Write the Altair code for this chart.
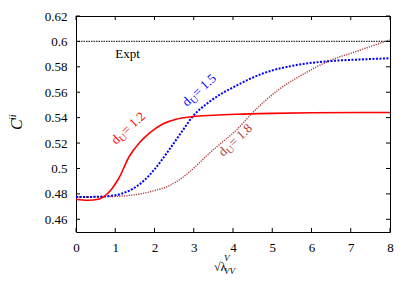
import altair as alt
import pandas as pd

# Curves
x_12 = [0, 0.3, 0.6, 0.72, 0.9, 1.08, 1.36, 1.61, 1.87, 2.21, 2.55, 2.97, 3.5, 4.08, 5.0, 6.0, 8.0]
y_12 = [0.4756, 0.4750, 0.4760, 0.4780, 0.4835, 0.4917, 0.5096, 0.5200, 0.5278, 0.5350,
        0.5388, 0.5408, 0.5419, 0.5427, 0.5434, 0.5438, 0.5441]

x_15 = [0, 0.5, 1.0, 1.36, 1.7, 2.0, 2.38, 2.72, 2.97, 3.4, 3.74, 3.92, 4.77, 5.62, 6.47, 7.32, 8.0]
y_15 = [0.4775, 0.4777, 0.4790, 0.4826, 0.4896, 0.4993, 0.5150, 0.5300, 0.5408, 0.5525,
        0.5595, 0.5625, 0.5749, 0.5814, 0.5845, 0.5859, 0.5867]

x_18 = [0, 1.0, 2.0, 2.38, 2.72, 3.06, 3.4, 3.74, 4.08, 4.5, 5.15, 5.83, 6.39, 7.15, 8.0]
y_18 = [0.4775, 0.4780, 0.4826, 0.4865, 0.4930, 0.5020, 0.5120, 0.5210, 0.5300, 0.5440,
        0.5617, 0.5749, 0.5839, 0.5922, 0.6012]

expt_value = 0.6
x_ticks = [0, 1, 2, 3, 4, 5, 6, 7, 8]
y_ticks = [0.46, 0.48, 0.50, 0.52, 0.54, 0.56, 0.58, 0.60, 0.62]

labels = ["1.2", "1.5", "1.8"]
label_x = [1.02, 2.83, 3.75]
label_y = [0.5184, 0.5483, 0.509]
colors = ["#ff0000", "#0000ff", "#b03a3a"]

W, H = 314, 216
FONT = "Liberation Serif"

xs = alt.Scale(domain=[0, 8], nice=False)
ys = alt.Scale(domain=[0.45, 0.62], nice=False)
axis_style = dict(title=None, tickSize=0, domain=False, grid=False, labelOverlap=False,
                  labelFlush=False, labelBound=False, labelFont=FONT, labelFontSize=13,
                  labelColor="black", labelPadding=9)
xaxis = alt.Axis(values=x_ticks, format="d", **axis_style)
yaxis = alt.Axis(values=y_ticks, format="~g", **axis_style)

def X(f="x"):
    return alt.X(f + ":Q", scale=xs, axis=xaxis)

def Y(f="y"):
    return alt.Y(f + ":Q", scale=ys, axis=yaxis)

def curve(xv, yv, color, dash, width):
    df = pd.DataFrame({"x": xv, "y": yv})
    kw = dict(color=color, strokeWidth=width, interpolate="monotone", clip=True)
    if dash:
        kw["strokeDash"] = dash
    return alt.Chart(df).mark_line(**kw).encode(x=X(), y=Y())

c12 = curve(x_12, y_12, colors[0], None, 1.6)
c15 = curve(x_15, y_15, colors[1], [2, 1.5], 2.0)
c18 = curve(x_18, y_18, colors[2], [1.2, 1.2], 1.4)

expt = alt.Chart(pd.DataFrame({"y": [expt_value]})).mark_rule(
    color="#333333", strokeWidth=1.2, strokeDash=[1.5, 1]
).encode(y=Y())

expt_txt = alt.Chart(pd.DataFrame({"x": [1.0], "y": [0.5869], "t": ["Expt"]})).mark_text(
    align="left", baseline="alphabetic", font=FONT, fontSize=13, color="black"
).encode(x=X(), y=Y(), text="t:N")

# inward ticks on all four sides
xt = pd.DataFrame({"x": x_ticks})
yt = pd.DataFrame({"y": y_ticks})
tb = alt.Chart(xt).mark_rule(color="black", strokeWidth=1).encode(
    x=X(), y=alt.value(H), y2=alt.value(H - 4))
tt = alt.Chart(xt).mark_rule(color="black", strokeWidth=1).encode(
    x=X(), y=alt.value(0), y2=alt.value(4))
tl = alt.Chart(yt).mark_rule(color="black", strokeWidth=1).encode(
    y=Y(), x=alt.value(0), x2=alt.value(4))
tr = alt.Chart(yt).mark_rule(color="black", strokeWidth=1).encode(
    y=Y(), x=alt.value(W), x2=alt.value(W - 4))

# d_U labels (d, subscript U, "= value"), rotated
lab_layers = []
for lx, ly, lt, col in zip(label_x, label_y, labels, colors):
    df = pd.DataFrame({"x": [lx], "y": [ly], "d": ["d"], "u": ["U"], "v": ["= " + lt]})
    lab_layers.append(alt.Chart(df).mark_text(
        align="left", baseline="alphabetic", angle=317, font=FONT, fontSize=13, color=col
    ).encode(text="d:N", x=X(), y=Y()))
    lab_layers.append(alt.Chart(df).mark_text(
        align="left", baseline="alphabetic", angle=317, font=FONT, fontSize=10, color=col,
        dx=6.5, dy=3
    ).encode(text="u:N", x=X(), y=Y()))
    lab_layers.append(alt.Chart(df).mark_text(
        align="left", baseline="alphabetic", angle=317, font=FONT, fontSize=13, color=col,
        dx=14
    ).encode(text="v:N", x=X(), y=Y()))

# axis titles built from text pieces
one = pd.DataFrame({"a": ["C"], "b": ["ii"], "s": ["\u221a\u03bb"], "p": ["V"], "q": ["VV"]})
yt_c = alt.Chart(one).mark_text(align="left", baseline="alphabetic", angle=270, font=FONT,
                                fontSize=16, fontStyle="italic", color="black").encode(
    text="a:N", x=alt.value(-54), y=alt.value(114))
yt_ii = alt.Chart(one).mark_text(align="left", baseline="alphabetic", angle=270, font=FONT,
                                 fontSize=10, fontStyle="italic", color="black", dx=10, dy=-6).encode(
    text="b:N", x=alt.value(-54), y=alt.value(114))
xt_s = alt.Chart(one).mark_text(align="left", baseline="alphabetic", font=FONT,
                                fontSize=12, color="black").encode(
    text="s:N", x=alt.value(138), y=alt.value(255))
xt_p = alt.Chart(one).mark_text(align="left", baseline="alphabetic", font=FONT,
                                fontSize=9, fontStyle="italic", color="black").encode(
    text="p:N", x=alt.value(148), y=alt.value(245))
xt_q = alt.Chart(one).mark_text(align="left", baseline="alphabetic", font=FONT,
                                fontSize=9, fontStyle="italic", color="black").encode(
    text="q:N", x=alt.value(148), y=alt.value(258))

chart = alt.layer(
    expt, c18, c15, c12, expt_txt, tb, tt, tl, tr, *lab_layers, yt_c, yt_ii, xt_s, xt_p, xt_q
).properties(
    width=W, height=H,
    background="white",
    autosize=alt.AutoSizeParams(type="none"),
    padding={"left": 68, "top": 8, "right": 17, "bottom": 51},
).configure_view(
    stroke="black", strokeWidth=1
).configure_axis(
    labelFont=FONT, labelFontSize=13, labelColor="black", labelPadding=9,
    tickSize=0, domain=False, grid=False, labelOverlap=False, labelFlush=False,
    labelBound=False
)

chart.save("out.html", embed_options={"renderer": "svg", "actions": False})
